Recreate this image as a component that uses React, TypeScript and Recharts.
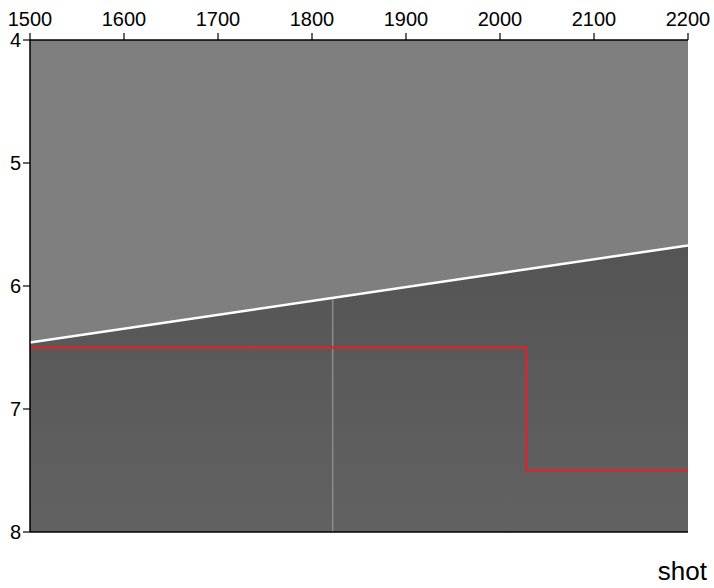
import React from 'react';
import {
  ComposedChart,
  XAxis,
  YAxis,
  Area,
  Line,
  CartesianGrid,
} from 'recharts';

// Shot range and tick marks
const shotTicks = [1500, 1600, 1700, 1800, 1900, 2000, 2100, 2200];
const depthTicks = [4, 5, 6, 7, 8];

// Reflector boundary (white line) at the ends of the shot range
const boundaryShots = [1500, 2200];
const boundaryDepths = [6.46, 5.67];

// Picked horizon (red step line)
const pickShots = [1500, 2028, 2028, 2200];
const pickDepths = [6.5, 6.5, 7.5, 7.5];

// Single faint trace below the boundary
const traceShots = [1822, 1822];
const traceDepths = [6.1, 8];

const boundaryData = boundaryShots.map((shot, i) => ({
  shot,
  boundary: boundaryDepths[i],
  upper: [4, boundaryDepths[i]],
}));
const pickData = pickShots.map((shot, i) => ({ shot, pick: pickDepths[i] }));
const traceData = traceShots.map((shot, i) => ({ shot, trace: traceDepths[i] }));

const font = '"Liberation Sans", Arial, Helvetica, sans-serif';

export default function App() {
  return (
    <div style={{ position: 'absolute', left: 0, top: 0, width: 714, height: 588, background: '#fff' }}>
      <ComposedChart
        width={714}
        height={588}
        margin={{ top: 0, right: 26, bottom: 0, left: 0 }}
        style={{ fontFamily: font }}
      >
        <defs>
          <linearGradient id="lowerFill" x1="0" y1="0" x2="0" y2="1">
            <stop offset="0%" stopColor="#4a4a4a" />
            <stop offset="100%" stopColor="#626262" />
          </linearGradient>
        </defs>
        <CartesianGrid horizontal={false} vertical={false} fill="url(#lowerFill)" fillOpacity={1} />
        <XAxis
          xAxisId="top"
          orientation="top"
          dataKey="shot"
          type="number"
          domain={[1500, 2200]}
          ticks={shotTicks}
          allowDataOverflow
          height={40}
          tickSize={7}
          tickMargin={7}
          axisLine={{ stroke: '#000', strokeWidth: 1.5 }}
          tickLine={{ stroke: '#000', strokeWidth: 1.2 }}
          tick={{ fill: '#000', fontSize: 20 }}
        />
        <XAxis
          xAxisId="bottom"
          orientation="bottom"
          type="number"
          domain={[1500, 2200]}
          allowDataOverflow
          height={56}
          tick={false}
          tickLine={false}
          axisLine={{ stroke: '#000', strokeWidth: 1.5 }}
          label={{ value: 'shot', position: 'insideBottomRight', dx: 24, dy: -3, fill: '#000', fontSize: 26 }}
        />
        <YAxis
          yAxisId="left"
          type="number"
          domain={[4, 8]}
          ticks={depthTicks}
          reversed
          allowDataOverflow
          width={30}
          tickSize={7}
          tickMargin={2}
          axisLine={{ stroke: '#000', strokeWidth: 1.5 }}
          tickLine={{ stroke: '#000', strokeWidth: 1.2 }}
          tick={{ fill: '#000', fontSize: 20 }}
        />
        <YAxis
          yAxisId="right"
          orientation="right"
          type="number"
          domain={[4, 8]}
          reversed
          width={0}
          tick={false}
          tickLine={false}
          axisLine={{ stroke: '#000', strokeWidth: 1.5 }}
        />
        <Area
          xAxisId="top"
          yAxisId="left"
          data={boundaryData}
          dataKey="upper"
          type="linear"
          stroke="none"
          fill="#7f7f7f"
          fillOpacity={1}
          isAnimationActive={false}
          dot={false}
          activeDot={false}
        />
        <Line
          xAxisId="top"
          yAxisId="left"
          data={traceData}
          dataKey="trace"
          type="linear"
          stroke="#8c8c8c"
          strokeWidth={1.5}
          dot={false}
          activeDot={false}
          isAnimationActive={false}
        />
        <Line
          xAxisId="top"
          yAxisId="left"
          data={boundaryData}
          dataKey="boundary"
          type="linear"
          stroke="#ffffff"
          strokeWidth={2.5}
          dot={false}
          activeDot={false}
          isAnimationActive={false}
        />
        <Line
          xAxisId="top"
          yAxisId="left"
          data={pickData}
          dataKey="pick"
          type="linear"
          stroke="#cf2a2e"
          strokeWidth={2.5}
          dot={false}
          activeDot={false}
          isAnimationActive={false}
        />
      </ComposedChart>
    </div>
  );
}
